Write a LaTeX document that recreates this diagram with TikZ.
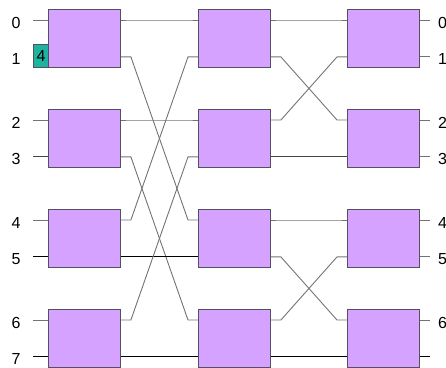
\documentclass[tikz,border=0pt]{standalone}
\usepackage{fontspec}
\setmainfont{Liberation Sans}
\definecolor{boxfill}{RGB}{214,162,255}
\definecolor{boxline}{RGB}{85,80,95}
\definecolor{wiregray}{RGB}{115,115,115}
\definecolor{wiremid}{RGB}{70,70,70}
\definecolor{tealfill}{RGB}{28,180,160}
\begin{document}
\begin{tikzpicture}[x=1pt,y=-1pt,
  sw/.style={draw=boxline,fill=boxfill,line width=0.9pt,minimum width=72pt,minimum height=58pt,inner sep=0pt,anchor=north west},
  wire/.style={draw=wiregray,line width=0.9pt},
  mid/.style={draw=wiremid,line width=0.9pt},
  dark/.style={draw=black,line width=0.9pt},
  lbl/.style={font=\fontsize{16}{18}\selectfont,inner sep=0pt}]
\useasboundingbox (0,0) rectangle (446,367);
% switch boxes
\foreach \b/\y in {0/9,1/109,2/209,3/309}{
  \node[sw] (A\b) at (48,\y) {};
  \node[sw] (B\b) at (198,\y) {};
  \node[sw] (C\b) at (347,\y) {};
}
% ports
\foreach \b in {0,1,2,3}{
  \pgfmathtruncatemacro\rt{2*\b}
  \pgfmathtruncatemacro\rb{2*\b+1}
  \foreach \c in {A,B,C}{
    \coordinate (\c i\rt) at ([yshift=-11pt]\c\b.north west);
    \coordinate (\c i\rb) at ([yshift=11pt]\c\b.south west);
    \coordinate (\c o\rt) at ([yshift=-11pt]\c\b.north east);
    \coordinate (\c o\rb) at ([yshift=11pt]\c\b.south east);
  }
}
% input stubs and labels
\foreach \r/\y/\s in {0/20/wire,1/56/wire,2/120/wire,3/156/mid,4/220/wire,5/256/dark,6/320/wire,7/356/dark}{
  \draw[\s] (Ai\r) -- ++(-15,0);
  \node[lbl] (L\r) at (16,\y+3) {\r};
}
% output stubs and labels
\foreach \r/\y/\s in {0/20/wire,1/56/wire,2/120/wire,3/156/wire,4/220/wire,5/256/wire,6/320/wire}{
  \draw[\s] (Co\r) -- ++(10,0);
  \node[lbl,anchor=west] (R\r) at (438,\y+3) {\r};
}
\draw[dark] (Co7) -- ++(10,0);
% stage 1 -> stage 2
\foreach \f/\t/\s in {0/0/wire,1/4/wire,2/2/wire,3/6/wire,4/1/wire,5/5/dark,6/3/wire,7/7/dark}{
  \draw[\s] (Ao\f) -- ++(10,0) -- ([xshift=-10pt]Bi\t) -- (Bi\t);
}
% stage 2 -> stage 3
\foreach \f/\t/\s in {0/0/wire,1/2/wire,2/1/wire,3/3/mid,4/4/wire,5/6/wire,6/5/wire,7/7/dark}{
  \draw[\s] (Bo\f) -- ++(10,0) -- ([xshift=-10pt]Ci\t) -- (Ci\t);
}
% marker
\node[draw=boxline,fill=tealfill,line width=0.9pt,minimum width=15pt,minimum height=23pt,inner sep=0pt,anchor=north west,font=\fontsize{16}{18}\selectfont] (T) at (33,44) {4};
\end{tikzpicture}
\end{document}
